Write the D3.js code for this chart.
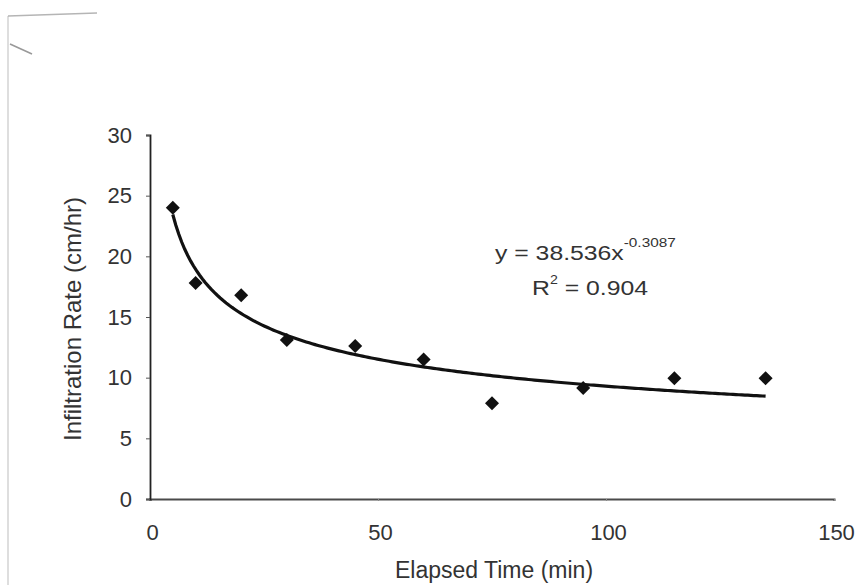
<!DOCTYPE html>
<html>
<head>
<meta charset="utf-8">
<script src="https://cdn.jsdelivr.net/npm/d3@7"></script>
<style>
  html, body { margin: 0; padding: 0; background: #fff; }
  svg { display: block; font-family: "Liberation Sans", Arial, sans-serif; }
</style>
</head>
<body>
<svg id="chart" width="856" height="585"></svg>
<script>
// datos
const elapsed = [5, 10, 20, 30, 45, 60, 75, 95, 115, 135];
const rate    = [24.0, 17.8, 16.8, 13.1, 12.6, 11.5, 7.9, 9.15, 9.95, 9.95];
const xTicks = [0, 50, 100, 150];
const yTicks = [0, 5, 10, 15, 20, 25, 30];
const fitA = 38.536, fitB = -0.3087, fitR2 = 0.904;

const FONT = "Liberation Sans, Arial, sans-serif";
const svg = d3.select("#chart");
const x = d3.scaleLinear().domain([0, 150]).range([150, 834]);
const y = d3.scaleLinear().domain([0, 30]).range([499, 135]);

// marco tenue del escaneo
svg.append("path").attr("d", "M8,16 L8,585").attr("stroke", "#c8c8c8").attr("stroke-width", 1.2).attr("fill", "none");
svg.append("path").attr("d", "M8,16 L97,13").attr("stroke", "#b5b5b5").attr("stroke-width", 1.6).attr("fill", "none");
svg.append("path").attr("d", "M10,44 L32,54").attr("stroke", "#999").attr("stroke-width", 1.6).attr("fill", "none");

// eje X
const gx = svg.append("g").attr("transform", `translate(0,${y(0)})`)
  .call(d3.axisBottom(x).tickValues(xTicks).tickSize(2).tickPadding(23));
gx.select(".domain").attr("stroke", "#4a4a4a").attr("stroke-width", 2);
gx.selectAll(".tick line").attr("stroke", "#888");
gx.selectAll(".tick text").attr("font-size", 22).attr("fill", "#333").attr("font-family", FONT)
  .attr("dx", 2);

// eje Y
const gy = svg.append("g").attr("transform", `translate(150,0)`)
  .call(d3.axisLeft(y).tickValues(yTicks).tickSize(4).tickPadding(14));
gy.select(".domain").attr("stroke", "#222").attr("stroke-width", 1.8);
gy.selectAll(".tick line").attr("stroke", "#555");
gy.selectAll(".tick text").attr("font-size", 22).attr("fill", "#333").attr("font-family", FONT);

// títulos de ejes
svg.append("text").attr("x", 494).attr("y", 578).attr("text-anchor", "middle")
  .attr("font-size", 23).attr("fill", "#333").text("Elapsed Time (min)");
svg.append("text").attr("transform", `translate(81,${y(15) + 2}) rotate(-90)`)
  .attr("text-anchor", "middle").attr("font-size", 24).attr("fill", "#333")
  .text("Infiltration Rate (cm/hr)");

// línea de tendencia potencial (ecuación mostrada)
const x0 = d3.min(elapsed), x1 = d3.max(elapsed);
const xs = d3.range(0, 201).map(i => x0 + (x1 - x0) * i / 200);
svg.append("path")
  .datum(xs)
  .attr("fill", "none").attr("stroke", "#111").attr("stroke-width", 3.2)
  .attr("d", d3.line().x(d => x(d)).y(d => y(fitA * Math.pow(d, fitB))));

// puntos (rombos)
svg.append("g").selectAll("path")
  .data(elapsed.map((e, i) => [e, rate[i]]))
  .join("path")
  .attr("transform", d => `translate(${x(d[0])},${y(d[1])})`)
  .attr("d", d3.symbol(d3.symbolDiamond2, 125))
  .attr("fill", "#111");

// ecuación (el escaneo está algo estirado en horizontal)
const eq = svg.append("text").attr("transform", "translate(495,260) scale(1.18,1)")
  .attr("font-size", 21).attr("fill", "#333");
eq.append("tspan").text(`y = ${fitA}x`);
eq.append("tspan").attr("dy", -13).attr("font-size", 13).text(fitB.toString());
const r2 = svg.append("text").attr("transform", "translate(532,295) scale(1.18,1)")
  .attr("font-size", 21).attr("fill", "#333");
r2.append("tspan").text("R");
r2.append("tspan").attr("dy", -11).attr("font-size", 12).text("2");
r2.append("tspan").attr("dy", 11).text(` = ${fitR2}`);
</script>
</body>
</html>
